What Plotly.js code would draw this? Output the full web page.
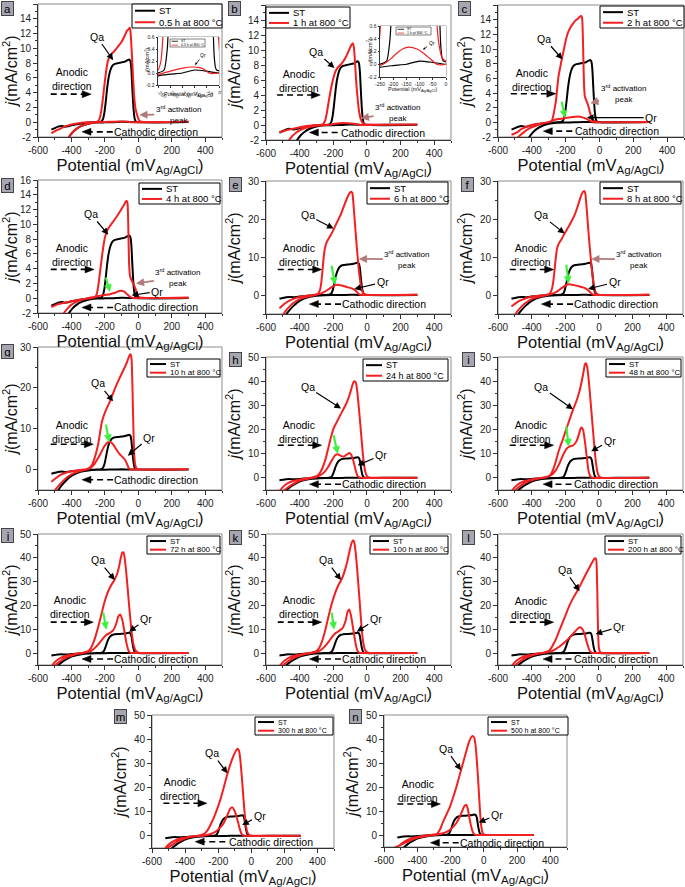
<!DOCTYPE html>
<html><head><meta charset="utf-8">
<script src="https://cdn.plot.ly/plotly-3.0.1.min.js"></script>
<style>html,body{margin:0;padding:0;background:#fff;} #chart{width:685px;height:887px;}</style>
</head><body><div id="chart"></div>
<script>
// ---------------- DATA (potential mV vs Ag/AgCl, current density mA/cm2) ----------------
const potentialTicks = [-600,-400,-200,0,200,400];
const potentialTickText = ['-600','-400','-200','0','200','400'];
const currentTicks16 = [-2,0,2,4,6,8,10,12,14,16];
const currentTicks30 = [0,10,20,30];
const currentTicks50 = [0,10,20,30,40,50];
const insetPotTicks = [-250,-200,-150,-100,-50,0];
const insetPotText = ['-250','-200','-150','-100','-50','0'];
const insetCurTicks = [-0.2,0,0.2,0.4,0.6];
const insetCurText = ['-0.2','0.0','0.2','0.4','0.6'];
const panelLetters = ['a','b','c','d','e','f','g','h','i','j','k','l','m','n'];
const treatmentLabels = ['0.5 h at 800 °C','1 h at 800 °C','2 h at 800 °C','4 h at 800 °C','6 h at 800 °C','8 h at 800 °C','10 h at 800 °C','24 h at 800 °C','48 h at 800 °C','72 h at 800 °C','100 h at 800 °C','200 h at 800 °C','300 h at 800 °C','500 h at 800 °C'];

const st_fwd = [[-520,-1.0],[-500,-0.8],[-480,-0.6],[-460,-0.5],[-440,-0.6],[-420,-0.55],[-400,-0.4],[-350,-0.2],[-300,-0.05],[-250,0],[-225,0.05],[-212,0.4],[-203,1.3],[-195,2.8],[-187,4.5],[-178,6.0],[-168,7.0],[-157,7.6],[-140,7.9],[-120,8.0],[-100,8.1],[-80,8.2],[-65,8.4],[-55,8.5],[-48,8.3],[-42,7.2],[-37,5.0],[-31,2.5],[-25,0.9],[-19,0.25],[-10,0.05],[300,0.03]];
const st_rev = [[300,0.03],[100,0.02],[0,0.0],[-50,0.03],[-100,0.05],[-150,0.0],[-200,-0.02],[-250,-0.05],[-300,-0.2],[-340,-0.5],[-370,-0.9],[-395,-1.4],[-415,-2.0],[-435,-2.8],[-455,-3.7],[-475,-4.8],[-495,-6.2],[-510,-7.2]];

const red_a_fwd = [[-520,-1.5],[-490,-1.1],[-460,-0.8],[-430,-0.5],[-400,-0.3],[-350,-0.1],[-300,0],[-250,0.05],[-238,0.2],[-230,0.6],[-222,1.5],[-212,3.2],[-202,5.2],[-192,7.0],[-182,8.3],[-170,9.0],[-158,9.3],[-148,9.5],[-138,9.8],[-120,10.3],[-100,10.9],[-82,11.7],[-68,12.4],[-58,12.6],[-52,12.8],[-47,12.3],[-42,10.5],[-36,8.0],[-30,5.3],[-24,3.2],[-17,1.8],[-9,1.1],[-2,0.6],[6,0.2],[20,0.05],[300,0.05]];
const red_a_rev = [[300,0.05],[50,0.02],[0,0.0],[-30,-0.01],[-45,0.01],[-60,0.06],[-80,0.09],[-110,0.1],[-150,0.08],[-200,0.03],[-250,-0.03],[-300,-0.2],[-340,-0.5],[-370,-0.9],[-395,-1.4],[-415,-2.0],[-435,-2.7],[-455,-3.6],[-470,-4.3]];
const red_b_fwd = [[-520,-1.0],[-480,-0.7],[-440,-0.5],[-400,-0.3],[-350,-0.1],[-300,0],[-262,0.1],[-250,0.5],[-240,1.4],[-228,3.0],[-214,4.8],[-200,6.2],[-186,7.2],[-172,7.7],[-158,8.0],[-140,8.5],[-122,9.2],[-106,10.0],[-94,10.6],[-85,10.9],[-79,10.6],[-74,9.5],[-68,7.3],[-61,5.0],[-53,3.0],[-45,1.6],[-37,0.8],[-28,0.35],[-15,0.1],[0,0.05],[300,0.05]];
const red_b_rev = [[300,0.05],[0,0.0],[-20,-0.01],[-35,0.0],[-50,0.05],[-70,0.12],[-90,0.19],[-110,0.24],[-140,0.27],[-165,0.24],[-190,0.16],[-210,0.08],[-230,0.02],[-250,-0.02],[-300,-0.1],[-350,-0.3],[-390,-0.6],[-420,-1.0],[-445,-1.5],[-465,-2.1],[-485,-2.8],[-500,-3.4]];
const red_c_fwd = [[-520,-1.7],[-490,-1.4],[-460,-0.9],[-420,-0.5],[-380,-0.25],[-330,-0.1],[-295,0.05],[-282,0.2],[-272,1.0],[-264,2.0],[-257,3.0],[-250,4.6],[-242,6.3],[-233,7.4],[-222,8.7],[-210,10.0],[-199,11.2],[-185,12.3],[-170,13.0],[-155,13.5],[-141,13.9],[-125,14.2],[-111,14.5],[-104,14.4],[-99,12.5],[-95,8.5],[-91,5.0],[-86,3.5],[-78,3.0],[-68,2.4],[-58,1.5],[-46,0.6],[-32,0.2],[-15,0.05],[300,0.05]];
const red_c_rev = [[300,0.05],[0,0.0],[-30,0.02],[-45,0.1],[-60,0.25],[-80,0.5],[-100,0.68],[-130,0.8],[-160,0.72],[-200,0.6],[-240,0.45],[-270,0.3],[-300,0.05],[-340,-0.2],[-380,-0.5],[-420,-0.9],[-450,-1.4],[-480,-2.0],[-500,-2.5]];
const red_d_fwd = [[-520,-1.2],[-480,-0.8],[-440,-0.6],[-400,-0.4],[-350,-0.2],[-300,-0.05],[-262,0.1],[-250,0.5],[-240,1.6],[-230,3.4],[-220,5.2],[-210,6.9],[-200,8.2],[-188,9.1],[-172,9.7],[-150,10.4],[-128,11.1],[-108,11.8],[-92,12.4],[-80,12.9],[-71,13.2],[-65,12.9],[-61,10.5],[-58,7.0],[-55,4.5],[-50,3.0],[-40,2.4],[-28,1.9],[-18,1.3],[-8,0.6],[3,0.15],[20,0.05],[300,0.05]];
const red_d_rev = [[300,0.05],[0,0.02],[-35,0.05],[-50,0.2],[-65,0.5],[-82,0.85],[-100,1.0],[-118,0.95],[-140,0.75],[-170,0.55],[-210,0.4],[-250,0.25],[-285,0.1],[-320,-0.1],[-360,-0.4],[-395,-0.8],[-420,-1.3],[-445,-2.0],[-470,-2.9],[-490,-3.6]];
const red_e_fwd = [[-520,-3.5],[-490,-2.3],[-460,-1.5],[-430,-0.9],[-400,-0.5],[-350,-0.15],[-310,0.05],[-290,0.4],[-280,1.2],[-272,3.0],[-265,6.0],[-258,9.5],[-250,12.2],[-240,13.8],[-228,14.8],[-212,16.0],[-194,17.6],[-175,19.4],[-155,21.2],[-135,23.6],[-117,25.6],[-103,26.8],[-94,27.2],[-87,26.9],[-81,24.5],[-75,21.0],[-68,17.0],[-60,12.5],[-52,8.5],[-44,5.0],[-36,2.5],[-28,1.0],[-18,0.3],[-5,0.05],[300,0.05]];
const red_e_rev = [[300,0.05],[0,0.0],[-38,0.05],[-50,0.3],[-62,0.9],[-75,1.4],[-95,1.8],[-120,2.1],[-150,2.5],[-175,2.7],[-198,2.4],[-222,1.7],[-250,0.9],[-280,0.3],[-310,-0.05],[-350,-0.4],[-390,-0.9],[-425,-1.7],[-455,-2.8],[-485,-4.3],[-505,-5.6]];
const red_f_fwd = [[-520,-3.0],[-490,-2.0],[-460,-1.3],[-430,-0.8],[-400,-0.45],[-350,-0.15],[-310,0.05],[-292,0.4],[-282,1.2],[-273,3.0],[-265,6.0],[-257,9.5],[-249,12.2],[-238,13.6],[-222,14.7],[-204,16.2],[-185,17.6],[-165,19.2],[-145,21.0],[-125,23.5],[-108,25.9],[-96,27.1],[-88,27.4],[-81,26.8],[-75,24.0],[-68,20.0],[-61,16.0],[-54,12.3],[-46,8.5],[-38,5.0],[-30,2.5],[-22,1.0],[-12,0.3],[0,0.05],[300,0.05]];
const red_f_rev = [[300,0.05],[0,0.0],[-32,0.05],[-45,0.4],[-58,1.0],[-75,1.6],[-95,2.0],[-120,2.3],[-150,2.6],[-175,2.8],[-198,2.5],[-222,1.8],[-250,0.9],[-280,0.3],[-310,-0.05],[-350,-0.4],[-390,-0.9],[-425,-1.7],[-455,-2.8],[-485,-4.3],[-505,-5.6]];
const red_g_fwd = [[-520,-3.0],[-490,-2.0],[-460,-1.2],[-430,-0.7],[-400,-0.4],[-350,-0.1],[-310,0.1],[-290,0.5],[-275,1.3],[-262,2.8],[-250,4.5],[-239,6.5],[-229,9.0],[-219,11.5],[-205,13.4],[-190,14.9],[-170,16.7],[-150,18.8],[-130,20.8],[-110,22.6],[-90,24.3],[-72,25.9],[-60,27.2],[-52,28.0],[-46,28.2],[-41,27.2],[-37,23.0],[-33,16.0],[-29,9.0],[-25,4.0],[-20,1.5],[-12,0.3],[0,0.05],[300,0.05]];
const red_g_rev = [[300,0.05],[0,0.0],[-48,0.05],[-58,0.4],[-68,1.4],[-80,2.4],[-95,3.1],[-112,3.8],[-130,4.8],[-150,6.1],[-168,6.8],[-185,6.6],[-205,5.6],[-225,4.0],[-245,2.5],[-265,1.2],[-290,0.3],[-320,-0.1],[-360,-0.5],[-400,-1.2],[-430,-2.0],[-460,-3.2],[-490,-4.6],[-505,-5.5]];
const red_h_fwd = [[-520,-5.5],[-500,-3.8],[-470,-2.2],[-430,-1.1],[-380,-0.4],[-330,0.1],[-300,0.7],[-285,1.6],[-270,3.3],[-255,5.8],[-242,8.8],[-228,12.8],[-213,17.0],[-198,20.5],[-180,23.0],[-158,26.0],[-135,29.0],[-115,32.0],[-100,35.0],[-88,38.0],[-79,39.7],[-72,40.0],[-65,39.2],[-57,35.5],[-48,29.0],[-39,22.0],[-30,14.5],[-21,8.0],[-11,3.0],[0,0.8],[12,0.15],[30,0.05],[300,0.05]];
const red_h_rev = [[300,0.05],[0,0.0],[-42,0.1],[-55,0.8],[-67,3.2],[-80,7.0],[-93,9.6],[-104,10.3],[-116,9.8],[-135,8.9],[-155,9.1],[-173,9.8],[-190,9.3],[-208,7.3],[-228,4.8],[-250,2.6],[-275,1.2],[-300,0.4],[-340,-0.2],[-380,-0.8],[-420,-1.8],[-450,-3.0],[-480,-4.5],[-500,-5.6]];
const red_i_fwd = [[-520,-5.5],[-500,-3.8],[-470,-2.2],[-430,-1.1],[-380,-0.4],[-330,0.2],[-300,0.6],[-285,1.6],[-272,3.5],[-258,6.5],[-244,10.0],[-230,13.0],[-214,16.0],[-195,20.0],[-175,24.0],[-155,28.0],[-135,31.5],[-117,35.5],[-102,40.0],[-91,44.0],[-83,47.0],[-77,47.4],[-70,46.0],[-62,41.5],[-53,34.5],[-44,27.0],[-35,19.5],[-26,12.0],[-17,6.0],[-8,2.2],[3,0.5],[18,0.05],[300,0.05]];
const red_i_rev = [[300,0.05],[0,0.0],[-42,0.1],[-52,0.8],[-62,3.0],[-72,8.5],[-83,15.0],[-93,19.5],[-101,20.8],[-109,20.4],[-118,18.2],[-133,15.2],[-153,13.4],[-173,13.0],[-193,12.0],[-213,9.5],[-233,6.2],[-255,3.3],[-280,1.3],[-310,0.3],[-350,-0.2],[-390,-0.8],[-430,-1.8],[-460,-3.0],[-490,-4.6],[-505,-5.6]];
const red_j_fwd = [[-520,-5.5],[-500,-3.8],[-470,-2.2],[-430,-1.1],[-380,-0.4],[-330,0.2],[-300,0.8],[-285,2.0],[-270,4.2],[-256,7.0],[-242,10.5],[-226,14.8],[-206,20.5],[-186,25.0],[-165,28.2],[-145,30.5],[-128,33.0],[-114,36.8],[-104,40.3],[-96,42.2],[-89,42.3],[-82,40.0],[-74,35.0],[-65,28.0],[-56,20.5],[-47,13.5],[-38,7.5],[-28,3.3],[-16,1.0],[0,0.2],[20,0.05],[300,0.05]];
const red_j_rev = [[300,0.05],[0,0.0],[-45,0.1],[-57,0.8],[-69,3.5],[-83,9.0],[-97,14.2],[-109,16.2],[-120,15.4],[-134,12.0],[-152,9.4],[-172,8.4],[-192,7.6],[-212,6.1],[-232,4.3],[-255,2.5],[-280,1.0],[-310,0.3],[-350,-0.2],[-390,-0.8],[-430,-1.8],[-460,-3.0],[-490,-4.6],[-505,-5.6]];
const red_k_fwd = [[-520,-5.5],[-500,-3.8],[-470,-2.2],[-430,-1.1],[-380,-0.4],[-330,0.2],[-300,0.8],[-285,2.0],[-272,4.0],[-258,7.0],[-243,11.0],[-228,15.5],[-210,20.5],[-190,25.0],[-170,28.5],[-150,31.0],[-132,34.5],[-115,39.0],[-101,43.5],[-90,46.5],[-82,47.4],[-75,46.5],[-68,43.0],[-60,37.0],[-51,29.0],[-42,20.5],[-33,12.0],[-23,5.0],[-12,1.5],[2,0.3],[20,0.05],[300,0.05]];
const red_k_rev = [[300,0.05],[0,0.0],[-43,0.1],[-55,0.8],[-66,3.5],[-80,9.5],[-94,15.5],[-105,18.3],[-114,17.5],[-127,13.5],[-145,10.5],[-165,9.3],[-185,8.5],[-205,7.0],[-225,5.0],[-250,2.8],[-275,1.2],[-305,0.3],[-350,-0.2],[-390,-0.8],[-430,-1.8],[-460,-3.0],[-490,-4.6],[-505,-5.6]];
const red_l_fwd = [[-520,-5.5],[-500,-3.8],[-470,-2.2],[-430,-1.1],[-380,-0.4],[-330,0.2],[-300,0.8],[-285,2.0],[-270,3.8],[-255,6.0],[-235,9.5],[-215,13.0],[-195,16.5],[-175,20.0],[-150,23.5],[-125,26.5],[-100,30.0],[-75,33.5],[-52,36.5],[-35,38.8],[-24,39.8],[-17,39.5],[-13,36.0],[-10,27.0],[-7,16.0],[-4,7.0],[0,2.0],[8,0.4],[25,0.05],[300,0.05]];
const red_l_rev = [[300,0.05],[0,0.0],[-40,0.1],[-55,1.0],[-70,4.0],[-85,8.0],[-100,10.3],[-112,10.8],[-125,10.3],[-145,8.8],[-170,6.8],[-200,4.8],[-230,3.0],[-260,1.6],[-290,0.6],[-320,0.1],[-360,-0.3],[-400,-1.0],[-430,-1.8],[-460,-3.0],[-490,-4.6],[-505,-5.6]];
const red_m_fwd = [[-520,-5.0],[-500,-3.6],[-470,-2.2],[-430,-1.1],[-380,-0.4],[-320,0.1],[-285,0.8],[-265,2.3],[-247,4.5],[-227,7.5],[-207,11.0],[-187,15.0],[-167,19.8],[-147,25.0],[-127,29.5],[-107,33.2],[-92,35.3],[-82,36.0],[-74,35.2],[-66,31.5],[-58,25.0],[-50,18.0],[-42,11.0],[-34,5.5],[-26,2.0],[-15,0.5],[0,0.1],[20,0.05],[300,0.05]];
const red_m_rev = [[300,0.05],[0,0.0],[-45,0.1],[-58,0.8],[-70,3.0],[-85,7.0],[-100,10.2],[-114,11.8],[-127,11.3],[-145,8.5],[-165,5.5],[-190,3.3],[-215,1.8],[-245,0.8],[-280,0.2],[-320,-0.1],[-370,-0.5],[-410,-1.3],[-450,-2.5],[-480,-3.8],[-510,-5.2],[-530,-6.0]];
const red_n_fwd = [[-520,-5.5],[-500,-3.9],[-470,-2.4],[-430,-1.3],[-380,-0.5],[-320,0.05],[-282,0.5],[-262,2.5],[-245,5.5],[-225,8.5],[-205,11.5],[-185,15.5],[-165,20.0],[-145,25.0],[-125,30.0],[-105,35.0],[-88,39.0],[-75,40.8],[-65,41.2],[-57,40.5],[-50,37.5],[-43,32.0],[-36,25.0],[-29,17.0],[-22,9.0],[-15,3.5],[-8,1.0],[0,0.3],[15,0.05],[300,0.05]];
const red_n_rev = [[300,0.05],[0,0.0],[-50,0.05],[-63,0.8],[-74,3.0],[-85,6.5],[-95,10.5],[-105,12.5],[-115,12.3],[-128,10.3],[-145,7.5],[-165,5.0],[-190,3.0],[-215,1.6],[-245,0.7],[-275,0.2],[-310,-0.1],[-360,-0.6],[-400,-1.2],[-440,-2.2],[-480,-3.5],[-520,-4.8],[-545,-5.6]];

const redCurves = [[red_a_fwd,red_a_rev],[red_b_fwd,red_b_rev],[red_c_fwd,red_c_rev],[red_d_fwd,red_d_rev],[red_e_fwd,red_e_rev],[red_f_fwd,red_f_rev],[red_g_fwd,red_g_rev],[red_h_fwd,red_h_rev],[red_i_fwd,red_i_rev],[red_j_fwd,red_j_rev],[red_k_fwd,red_k_rev],[red_l_fwd,red_l_rev],[red_m_fwd,red_m_rev],[red_n_fwd,red_n_rev]];

// ---------------- LAYOUT CONFIG (pixel frames, annotation anchors) ----------------
const W = 685, H = 887;
const FONT = 'Liberation Sans, Arial, Helvetica, sans-serif';
const RED = '#f22020', BLACK = '#000000', GREEN = '#3df03d', BROWN = '#b07a7a';
const XR = [-600,500];

const P = [
 {f:[38,222,4,137], yr:[-2,16], yt:currentTicks16, mdt:1, leg:[132,222,4,28], lf:9.5, tag:[7.5,8.5],
  qa:[-249,11.6,-151,8.4], an:[-396,5.8,3.8,-524,-282], ca:[104,-1.3,-153,-337], act:[238,1.1,6,1.0]},
 {f:[266,451,5,140], yr:[-2,16], yt:currentTicks16, mdt:1, leg:[266,350,7,28], lf:9.5, tag:[234.5,9],
  qa:[-303,9.8,-193,7.6], an:[-401,5.9,4.0,-534,-277], ca:[93,-1.0,-174,-342], act:[182,1.7,-36,0.9]},
 {f:[498,684,5,137], yr:[-2,16], yt:currentTicks16, mdt:1, leg:[600,684,6,28], lf:9.5, tag:[464.8,9],
  qa:[-326,11.4,-219,8.6], an:[-401,5.8,3.9,-524,-258], ca:[101,-1.2,-161,-332], act:[140,3.9,-54,2.6], qr:[305,0.65,-74,0.65], gr:[-223,2.8,-204,0.65]},
 {f:[38,222,180,313], yr:[-2,16], yt:currentTicks16, mdt:1, leg:[139,220,183,204], lf:9.5, tag:[7.5,186],
  qa:[-284,11.4,-180,8.6], an:[-396,5.9,3.9,-524,-265], ca:[104,-1.25,-151,-337], act:[236,2.8,-14,2.0], qr:[113,0.9,-40,0.4], gr:[-194,2.8,-171,0.9]},
 {f:[266,451,181,314], yr:[-5,30], yt:currentTicks30, mdt:5, leg:[367,448,182,204], lf:9.5, tag:[235.5,184.5],
  qa:[-352,21,-198,17.5], an:[-401,10.4,6.7,-530,-269], ca:[103,-2.4,-154,-342], act:[237,9.4,-48,9.5], qr:[93,3.3,-75,1.6], gr:[-210,7.7,-190,2.8]},
 {f:[498,683,181,314], yr:[-5,30], yt:currentTicks30, mdt:5, leg:[600,681,182,204], lf:9.5, tag:[467.8,184.5],
  qa:[-342,21,-204,16.2], an:[-401,10.4,6.7,-530,-269], ca:[103,-2.4,-154,-342], act:[237,9.4,-45,9.5], qr:[93,3.3,-65,1.6], gr:[-194,7.9,-180,3.1]},
 {f:[38,222,347,490], yr:[-5,30], yt:currentTicks30, mdt:5, leg:[147,220,359,377], lf:8, tag:[7.5,351],
  qa:[-239,21.1,-151,16.7], an:[-396,9.3,6.2,-524,-269], ca:[104,-2.5,-151,-337], qr:[65,7.8,-63,3.4], gr:[-194,11,-175,6.8]},
 {f:[266,451,357,490], yr:[-5,50], yt:currentTicks50, mdt:5, leg:[363,448,359,381], lf:9, tag:[235.5,359],
  qa:[-352,37.6,-154,28.7], an:[-401,19,13.5,-530,-269], ca:[103,-2.6,-154,-342], qr:[84,9.4,-55,5.2], gr:[-198,17.6,-174,10.1]},
 {f:[498,683,357,490], yr:[-5,50], yt:currentTicks50, mdt:5, leg:[606,681,359,377], lf:8, tag:[468,359],
  qa:[-342,37.6,-154,28.4], an:[-401,19,13.5,-530,-269], ca:[103,-2.6,-163,-332], qr:[63,15.3,-46,11], gr:[-194,21.3,-180,13.1]},
 {f:[38,222,534,665], yr:[-5,50], yt:currentTicks50, mdt:5, leg:[147,220,536,554], lf:8, tag:[7.5,535],
  qa:[-239,39,-141,30.7], an:[-406,19.5,13,-524,-269], ca:[104,-2.5,-151,-337], qr:[45,14.2,-55,9], gr:[-210,17,-192,10]},
 {f:[266,451,534,665], yr:[-5,50], yt:currentTicks50, mdt:5, leg:[370,448,536,554], lf:8, tag:[235.3,537.5],
  qa:[-243,39,-154,30.7], an:[-401,19.5,13,-530,-269], ca:[103,-2.5,-154,-342], qr:[53,14.2,-60,9], gr:[-210,17,-195,10]},
 {f:[498,683,534,665], yr:[-5,50], yt:currentTicks50, mdt:5, leg:[605,681,536,554], lf:8, tag:[468,537.5],
  qa:[-204,34.9,-115,26], an:[-401,19,13,-530,-269], ca:[103,-2.5,-163,-332], qr:[120,11,-20,8]},
 {f:[152,334,715,848], yr:[-5,50], yt:currentTicks50, mdt:5, leg:[255,333,717,735], lf:7, tag:[120.8,716],
  qa:[-236,34.2,-144,25.9], an:[-430,19.2,13.5,-531,-268], ca:[117,-2.4,-157,-339], qr:[50,8.3,-55,4.5]},
 {f:[384,567,715,847], yr:[-5,50], yt:currentTicks50, mdt:5, leg:[488,568,717,735], lf:7, tag:[355.3,716],
  qa:[-230,36,-137,27], an:[-395,18.5,12.9,-520,-261], ca:[109,-3.2,-151,-321], qr:[79,8.4,-31,5.2]}
];
const INSETS = [
 {host:0, f:[158,219,37,85], leg:[170,205,39,47], qr:[-65,0.30,-98,0.135], xt:[188.5,94.5], yt:[147,61]},
 {host:1, f:[380,446,26,77], leg:[396,431,27,35], qr:[-54,0.33,-87,0.23], xt:[413,89.5], yt:[369,51.5]}
];

const px = v => v / W, py = v => 1 - v / H;
const traces = [], shapes = [], annotations = [];
const layout = {width:W, height:H, margin:{l:0,r:0,t:0,b:0}, paper_bgcolor:'#fff', plot_bgcolor:'#fff',
  showlegend:false, font:{family:FONT, color:'#111'}};

function pts(fwd, rev){ const a = fwd.concat(rev); return {x:a.map(p=>p[0]), y:a.map(p=>p[1])}; }

function addAxes(n, fr, xcfg, ycfg){
  const s = n === 1 ? '' : String(n);
  layout['xaxis'+s] = Object.assign({domain:[px(fr[0]),px(fr[1])], anchor:'y'+s, showgrid:false, zeroline:false,
    showline:true, linecolor:'#333', linewidth:1, ticks:'outside', tickcolor:'#333', tickwidth:1, fixedrange:true}, xcfg);
  layout['yaxis'+s] = Object.assign({domain:[py(fr[3]),py(fr[2])], anchor:'x'+s, showgrid:false, zeroline:false,
    showline:true, linecolor:'#333', linewidth:1, ticks:'outside', tickcolor:'#333', tickwidth:1, fixedrange:true}, ycfg);
  shapes.push({type:'rect', xref:'x'+s+' domain', yref:'y'+s+' domain', x0:0, x1:1, y0:0, y1:1,
    line:{color:'#8c8c8c', width:1}, layer:'below'});
  return ['x'+s, 'y'+s];
}

function legendBox(b, label, fs, small){
  const [L,R,T,B] = b, h = B - T;
  shapes.push({type:'rect', xref:'paper', yref:'paper', x0:px(L), x1:px(R), y0:py(B), y1:py(T),
    line:{color:'#000', width: small ? 0.5 : 1}, fillcolor:'#fff', layer:'above'});
  const r1 = T + 0.28*h, r2 = T + 0.76*h;
  const l0 = L + (small ? 1.5 : 3), l1 = L + (small ? 8 : (fs > 9 ? 23 : 19)), tx = L + (small ? 9 : (fs > 9 ? 25 : 21));
  [[r1,BLACK,'ST'],[r2,RED,label]].forEach(([y,c,t]) => {
    shapes.push({type:'line', xref:'paper', yref:'paper', x0:px(l0), x1:px(l1), y0:py(y), y1:py(y),
      line:{color:c, width: small ? 0.8 : 2}, layer:'above'});
    annotations.push({xref:'paper', yref:'paper', x:px(tx), y:py(y), xanchor:'left', yanchor:'middle',
      text:t, showarrow:false, font:{size:fs, family:FONT, color:'#000'}});
  });
}

function arrowText(xa, ya, a, text, fs, color, aw, asz){
  annotations.push({xref:xa, yref:ya, axref:xa, ayref:ya, x:a[2], y:a[3], ax:a[0], ay:a[1], text:text,
    showarrow:true, arrowhead:2, arrowsize:asz || 1.1, arrowwidth:aw || 1.2, arrowcolor:color || '#000',
    font:{size:fs, family:FONT, color:'#000'}});
}

// arrow drawn as shapes: a (dashed or solid) shaft and a filled triangular head sized in pixels
function shapeArrow(xa, ya, fr, yr, x0, y0, x1, y1, color, width, dash, len, wid){
  const sx = (fr[1]-fr[0])/(XR[1]-XR[0]), sy = (fr[3]-fr[2])/(yr[1]-yr[0]);
  let dx = (x1-x0)*sx, dy = (y1-y0)*sy; const d = Math.hypot(dx, dy); const ux = dx/d, uy = dy/d;
  const ex = x1 - ux*(len-1)/sx, ey = y1 - uy*(len-1)/sy;
  const ln = {type:'line', xref:xa, yref:ya, x0:x0, y0:y0, x1:ex, y1:ey, line:{color:color, width:width}};
  if (dash) ln.line.dash = dash;
  shapes.push(ln);
  const bx = -ux*len, by = -uy*len, qx = -uy*wid, qy = ux*wid;
  shapes.push({type:'path', xref:xa, yref:ya, xsizemode:'pixel', ysizemode:'pixel', xanchor:x1, yanchor:y1,
    path:`M0,0 L${(bx+qx).toFixed(2)},${(by+qy).toFixed(2)} L${(bx-qx).toFixed(2)},${(by-qy).toFixed(2)} Z`,
    fillcolor:color, line:{color:color, width:0.5}});
}

const mainX = {range:XR, tickmode:'array', tickvals:potentialTicks, ticktext:potentialTickText, ticklen:4,
  minor:{tickmode:'linear', tick0:-600, dtick:100, ticks:'outside', ticklen:2, tickcolor:'#333'},
  tickfont:{size:10, family:FONT, color:'#222'},
  title:{text:'Potential (mV<sub>Ag/AgCl</sub>)', font:{size:16.5, family:FONT, color:'#111'}, standoff:3}};

P.forEach((p, i) => {
  const n = i + 1;
  const yc = {range:p.yr, tickmode:'array', tickvals:p.yt, ticktext:p.yt.map(String), ticklen:4,
    minor:{tickmode:'linear', tick0:0, dtick:p.mdt, ticks:'outside', ticklen:2, tickcolor:'#333'},
    tickfont:{size:10, family:FONT, color:'#222'},
    title:{text:'<i>j</i>(mA/cm<sup>2</sup>)', font:{size:16, family:FONT, color:'#111'}, standoff:3}};
  const [xa, ya] = addAxes(n, p.f, JSON.parse(JSON.stringify(mainX)), yc);
  const st = pts(st_fwd, st_rev), rd = pts(redCurves[i][0], redCurves[i][1]);
  traces.push({type:'scatter', mode:'lines', x:st.x, y:st.y, xaxis:xa, yaxis:ya, name:'ST',
    line:{color:BLACK, width:2, shape:'spline', smoothing:0.5}, hoverinfo:'skip'});
  traces.push({type:'scatter', mode:'lines', x:rd.x, y:rd.y, xaxis:xa, yaxis:ya, name:treatmentLabels[i],
    line:{color:RED, width:2, shape:'spline', smoothing:0.5}, hoverinfo:'skip'});
  legendBox(p.leg, treatmentLabels[i], p.lf, false);
  annotations.push({xref:'paper', yref:'paper', x:px(p.tag[0]), y:py(p.tag[1]), xanchor:'center', yanchor:'middle',
    text:panelLetters[i], showarrow:false, bgcolor:'#a6a6b0', bordercolor:'#444', borderwidth:1, borderpad:1,
    width:9, height:11, font:{size:11.5, family:FONT, color:'#000'}});
  arrowText(xa, ya, p.qa, 'Qa', 10.5);
  annotations.push({xref:xa, yref:ya, x:p.an[0], y:p.an[1], text:'Anodic<br>direction', showarrow:false,
    font:{size:10.5, family:FONT, color:'#000'}, align:'center'});
  shapeArrow(xa, ya, p.f, p.yr, p.an[3], p.an[2], p.an[4], p.an[2], '#000', 1.6, '6px,4px', 9, 3.5);
  annotations.push({xref:xa, yref:ya, x:p.ca[0], y:p.ca[1], text:'Cathodic direction', showarrow:false,
    font:{size:10.5, family:FONT, color:'#000'}});
  shapeArrow(xa, ya, p.f, p.yr, p.ca[2], p.ca[1], p.ca[3], p.ca[1], '#000', 1.6, '6px,4px', 9, 3.5);
  if (p.act) arrowText(xa, ya, p.act, '3<sup>rd</sup> activation<br>peak', 8, BROWN, 1.8, 0.9);
  if (p.qr) arrowText(xa, ya, p.qr, 'Qr', 10.5);
  if (p.gr) shapeArrow(xa, ya, p.f, p.yr, p.gr[0], p.gr[1], p.gr[2], p.gr[3], GREEN, 2.2, null, 7, 3.5);
});

INSETS.forEach((ins, k) => {
  const n = 15 + k;
  const xc = {range:[-250,0], tickmode:'array', tickvals:insetPotTicks, ticktext:insetPotText, ticklen:1.5,
    tickfont:{size:5, family:FONT, color:'#222'}};
  const yc = {range:[-0.2,0.6], tickmode:'array', tickvals:insetCurTicks, ticktext:insetCurText, ticklen:1.5,
    tickfont:{size:5, family:FONT, color:'#222'}};
  const [xa, ya] = addAxes(n, ins.f, xc, yc);
  const st = pts(st_fwd, st_rev), rd = pts(redCurves[ins.host][0], redCurves[ins.host][1]);
  traces.push({type:'scatter', mode:'lines', x:st.x, y:st.y, xaxis:xa, yaxis:ya, name:'ST',
    line:{color:BLACK, width:1.2, shape:'spline', smoothing:0.5}, hoverinfo:'skip'});
  traces.push({type:'scatter', mode:'lines', x:rd.x, y:rd.y, xaxis:xa, yaxis:ya, name:treatmentLabels[ins.host],
    line:{color:RED, width:1.2, shape:'spline', smoothing:0.5}, hoverinfo:'skip'});
  legendBox(ins.leg, treatmentLabels[ins.host], 3.5, true);
  annotations.push({xref:xa, yref:ya, axref:xa, ayref:ya, x:ins.qr[2], y:ins.qr[3], ax:ins.qr[0], ay:ins.qr[1],
    text:'Qr', showarrow:true, arrowhead:2, arrowsize:0.6, arrowwidth:0.8, arrowcolor:'#000',
    font:{size:5, family:FONT, color:'#000'}});
  annotations.push({xref:'paper', yref:'paper', x:px(ins.xt[0]), y:py(ins.xt[1]), xanchor:'center', yanchor:'middle',
    text:'Potential (mV<sub>Ag/AgCl</sub>)', showarrow:false, font:{size:5.5, family:FONT, color:'#111'}});
  annotations.push({xref:'paper', yref:'paper', x:px(ins.yt[0]), y:py(ins.yt[1]), xanchor:'center', yanchor:'middle',
    text:'<i>j</i>(mA/cm<sup>2</sup>)', textangle:-90, showarrow:false, font:{size:5.5, family:FONT, color:'#111'}});
});

layout.shapes = shapes;
layout.annotations = annotations;
Plotly.newPlot('chart', traces, layout, {staticPlot:true, displayModeBar:false});
</script></body></html>
